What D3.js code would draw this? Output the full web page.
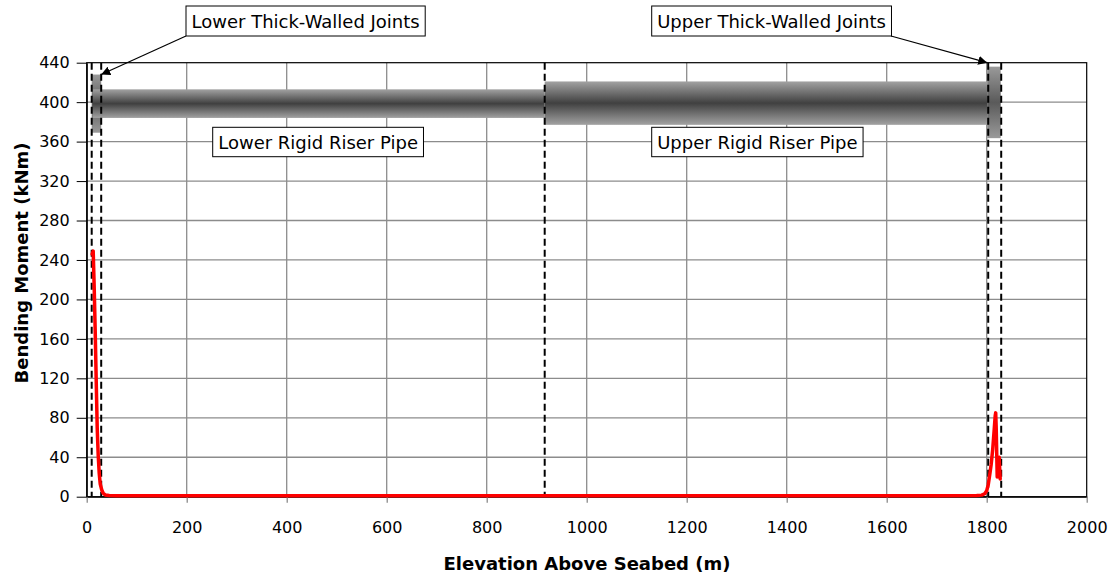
<!DOCTYPE html>
<html><head><meta charset="utf-8">
<script src="https://cdn.jsdelivr.net/npm/d3@7"></script>
<style>
html,body{margin:0;padding:0;background:#fff;}
svg{display:block;font-family:"DejaVu Sans",Verdana,sans-serif;}
</style></head>
<body>
<svg id="chart" width="1115" height="581"></svg>
<script>
// ---- data ----
const xTicks = [0,200,400,600,800,1000,1200,1400,1600,1800,2000];
const yTicks = [0,40,80,120,160,200,240,280,320,360,400,440];

// bending moment curve (elevation m, moment kNm)
const elevation = [11,13,15,17,19,21,23,25,27,30,33,37,45,60,100,300,600,900,1200,1500,1700,1780,1790,1796,1800,1803,1806,1809,1812,1815,1817,1818,1819,1820,1821,1822,1823,1825,1826,1827];
const moment    = [246,249,212,168,118,70,42,24,13,7,3.5,1.8,1.2,1,1,1,1,1,1,1,1,1.2,1.6,3,6,12,22,33,48,68,82,85,70,45,20,26,32,40,28,18];

// zones (riser sections drawn as bands)
const zoneNames  = ["Lower Thick-Walled Joints","Lower Rigid Riser Pipe","Upper Rigid Riser Pipe","Upper Thick-Walled Joints"];
const zoneStart  = [10, 12, 916, 1801];
const zoneEnd    = [29, 916, 1801, 1828];
const zoneTop    = [428, 413, 421, 436];
const zoneBottom = [369, 384, 377, 363.5];

// dashed boundaries
const boundaries = [10, 29, 916, 1803, 1829];

// ---- layout ----
const svg = d3.select("#chart");
const M = {left:86.7, top:62.7, right:1086.7, bottom:496.7};
const x = d3.scaleLinear().domain([0,2000]).range([M.left, M.right]);
const y = d3.scaleLinear().domain([0,440]).range([M.bottom, M.top]);

const defs = svg.append("defs");
const grad = defs.append("linearGradient").attr("id","pipe").attr("x1",0).attr("x2",0).attr("y1",0).attr("y2",1);
grad.append("stop").attr("offset","0%").attr("stop-color","#a2a2a2");
grad.append("stop").attr("offset","50%").attr("stop-color","#404040");
grad.append("stop").attr("offset","100%").attr("stop-color","#a2a2a2");
const grad2 = defs.append("linearGradient").attr("id","joint").attr("x1",0).attr("x2",0).attr("y1",0).attr("y2",1);
grad2.append("stop").attr("offset","0%").attr("stop-color","#9a9a9a");
grad2.append("stop").attr("offset","50%").attr("stop-color","#5a5a5a");
grad2.append("stop").attr("offset","100%").attr("stop-color","#9a9a9a");

// grid
svg.append("g").selectAll("line.v").data(xTicks.slice(1,-1)).join("line")
  .attr("x1",d=>x(d)).attr("x2",d=>x(d)).attr("y1",M.top).attr("y2",M.bottom)
  .attr("stroke","#8c8c8c").attr("stroke-width",1.3);
svg.append("g").selectAll("line.h").data(yTicks.slice(1,-1)).join("line")
  .attr("x1",M.left).attr("x2",M.right).attr("y1",d=>y(d)).attr("y2",d=>y(d))
  .attr("stroke","#8c8c8c").attr("stroke-width",1.3);

// zones: joints first then pipes
const order = [0,3,1,2];
svg.append("g").selectAll("rect").data(order).join("rect")
  .attr("x",i=>x(zoneStart[i])).attr("width",i=>x(zoneEnd[i])-x(zoneStart[i]))
  .attr("y",i=>y(zoneTop[i])).attr("height",i=>y(zoneBottom[i])-y(zoneTop[i]))
  .attr("fill",i=>(i===0||i===3)?"url(#joint)":"url(#pipe)");

// plot frame
svg.append("rect").attr("x",M.left).attr("y",M.top).attr("width",M.right-M.left).attr("height",M.bottom-M.top)
  .attr("fill","none").attr("stroke","#000").attr("stroke-width",1.2);

// dashed boundaries
svg.append("g").selectAll("line").data(boundaries).join("line")
  .attr("x1",d=>x(d)).attr("x2",d=>x(d)).attr("y1",M.top).attr("y2",M.bottom)
  .attr("stroke","#000").attr("stroke-width",2).attr("stroke-dasharray","7,4");

// axes
const xAxis = d3.axisBottom(x).tickValues(xTicks).tickFormat(d3.format("d")).tickSize(6).tickSizeOuter(0).tickPadding(19);
const gx = svg.append("g").attr("transform",`translate(0,${M.bottom})`).call(xAxis);
gx.select(".domain").attr("stroke","#000").attr("stroke-width",1.2);
gx.selectAll(".tick line").attr("stroke","#808080").attr("stroke-width",1.2);
gx.selectAll("text").attr("font-size",16).attr("font-family","DejaVu Sans").attr("fill","#000");

const yAxis = d3.axisLeft(y).tickValues(yTicks).tickSize(10).tickSizeOuter(0).tickPadding(7);
const gy = svg.append("g").attr("transform",`translate(${M.left},0)`).call(yAxis);
gy.select(".domain").attr("stroke","#000").attr("stroke-width",1.2);
gy.selectAll(".tick line").attr("stroke","#000").attr("stroke-width",1);
gy.selectAll("text").attr("font-size",16).attr("font-family","DejaVu Sans").attr("fill","#000");

// titles
svg.append("text").attr("x",587).attr("y",570).attr("text-anchor","middle")
  .attr("font-weight","bold").attr("font-size",18).text("Elevation Above Seabed (m)");
svg.append("text").attr("transform","translate(27.5,263) rotate(-90)").attr("text-anchor","middle")
  .attr("font-weight","bold").attr("font-size",18).text("Bending Moment (kNm)");

// curve
const line = d3.line().x((d,i)=>x(elevation[i])).y((d,i)=>y(moment[i]));
svg.append("path").datum(moment).attr("d",line).attr("fill","none")
  .attr("stroke","#ff0000").attr("stroke-width",3.5).attr("stroke-linejoin","round").attr("stroke-linecap","round");

// annotation boxes
const boxes = [
  {text:zoneNames[0], x:186, y:6, h:30},
  {text:zoneNames[3], x:651.7, y:6, h:30},
  {text:zoneNames[1], x:212.7, y:127.3, h:29.4},
  {text:zoneNames[2], x:651.7, y:127.3, h:29.4}
];
const bg = svg.append("g");
boxes.forEach(b=>{
  const g = bg.append("g");
  const r = g.append("rect").attr("x",b.x).attr("y",b.y).attr("height",b.h)
    .attr("fill","#fff").attr("stroke","#000").attr("stroke-width",1);
  const t = g.append("text").attr("x",b.x+5.5).attr("y",b.y+21.5).attr("font-size",18).text(b.text);
  const tw = t.node().getComputedTextLength();
  r.attr("width",tw+11);
});

// arrows
defs.append("marker").attr("id","arr").attr("viewBox","0 0 10 10").attr("refX",10).attr("refY",5)
  .attr("markerWidth",9).attr("markerHeight",9).attr("markerUnits","userSpaceOnUse").attr("orient","auto")
  .append("path").attr("d","M0,0L10,5L0,10z").attr("fill","#000");
svg.append("line").attr("x1",186).attr("y1",36).attr("x2",x(29)).attr("y2",y(428))
  .attr("stroke","#000").attr("stroke-width",1.2).attr("marker-end","url(#arr)");
svg.append("line").attr("x1",891).attr("y1",36).attr("x2",x(1801)).attr("y2",M.top)
  .attr("stroke","#000").attr("stroke-width",1.2).attr("marker-end","url(#arr)");
</script>
</body></html>
